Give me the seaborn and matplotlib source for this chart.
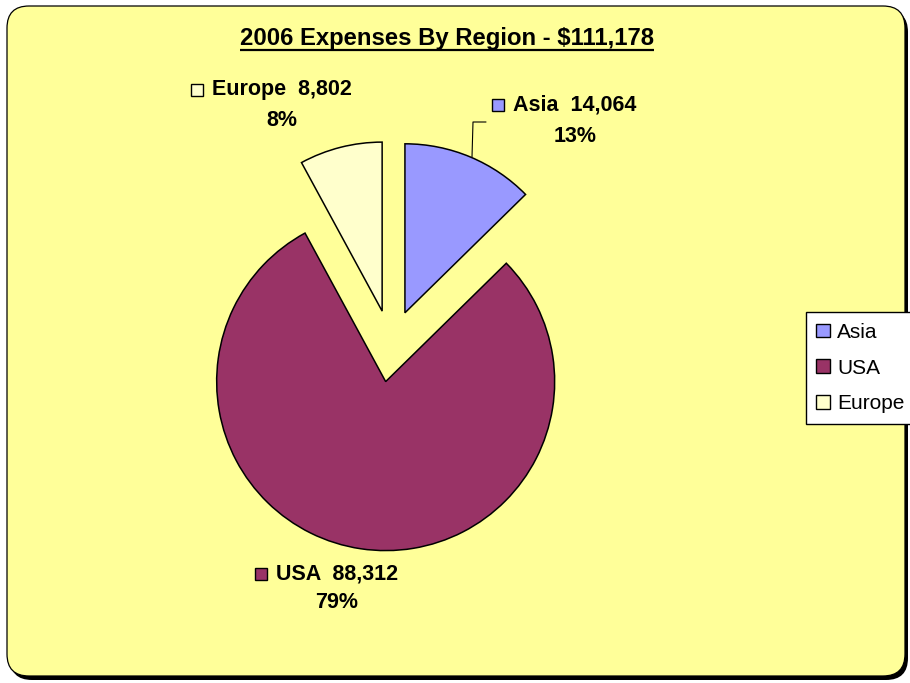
import matplotlib.pyplot as plt
import seaborn as sns
from matplotlib.patches import FancyBboxPatch, Rectangle

# chart data
regions = ["Asia", "USA", "Europe"]
expenses = [14064, 88312, 8802]
colors = ["#9999FF", "#993366", "#FFFFCC"]
title = "2006 Expenses By Region - $111,178"

total = sum(expenses)
percents = [round(v / total * 100) for v in expenses]

# layout in image pixels
W, H = 910, 683
pie_cx, pie_cy, pie_r = 391, 346, 169
explode = [0.213, 0.213, 0.213]
# (text centre x, line1 y, line2 y)
label_pos = {"Asia": (575, 105, 136), "USA": (337, 574, 602), "Europe": (282, 90, 120)}

sns.set_style("white")
plt.rcParams['font.family'] = ['Liberation Sans', 'DejaVu Sans']
plt.rcParams['text.color'] = 'black'

fig = plt.figure(figsize=(W / 100, H / 100), dpi=100)

# background axes in pixel coords
bg = fig.add_axes([0, 0, 1, 1], zorder=0)
bg.set_xlim(0, W)
bg.set_ylim(H, 0)
bg.axis("off")
bg.add_patch(FancyBboxPatch((10, 10), 898, 670, boxstyle="round,pad=0,rounding_size=22",
                            facecolor="black", edgecolor="black", lw=0))
bg.add_patch(FancyBboxPatch((7, 6), 898, 670, boxstyle="round,pad=0,rounding_size=22",
                            facecolor="#FFFF99", edgecolor="black", lw=0.9))

# pie axes
ax = fig.add_axes([0, 0, 1, 1], zorder=1)
ax.patch.set_alpha(0)
wedges, _ = ax.pie(expenses, colors=colors, startangle=90, counterclock=False,
                   explode=explode, radius=1,
                   wedgeprops=dict(edgecolor="black", linewidth=1.1))
ax.set_xlim(-pie_cx / pie_r, (W - pie_cx) / pie_r)
ax.set_ylim(-(H - pie_cy) / pie_r, pie_cy / pie_r)
ax.set_aspect("auto")
ax.axis("off")

# title
t = bg.text(447, 45, title, ha="center", va="baseline", fontsize=17.2, fontweight="bold")

# data labels
line1 = []
for name, val, p, c in zip(regions, expenses, percents, colors):
    x, y1, y2 = label_pos[name]
    t1 = bg.text(x, y1, f"{name}  {val:,}", ha="center", va="center", fontsize=15.5, fontweight="bold")
    bg.text(x, y2, f"{p}%", ha="center", va="center", fontsize=15.5, fontweight="bold")
    line1.append((t1, c, y1))

# leader line for Asia
bg.plot([486, 473, 472], [122, 122, 157], color="black", lw=0.8)

# legend
leg = fig.legend(wedges, regions, loc="center left", bbox_to_anchor=(806 / W, 1 - 368 / H),
                 borderaxespad=0, fontsize=15, fancybox=False, framealpha=1,
                 edgecolor="black", handlelength=0.65, handleheight=0.65,
                 handletextpad=0.35, labelspacing=0.8, borderpad=0.5)
leg.get_frame().set_linewidth(1.0)
for h in leg.legend_handles:
    h.set_linewidth(1.0)

# underline title and square keys beside labels
fig.canvas.draw()
inv = bg.transData.inverted()
bb = t.get_window_extent()
(x0, _), (x1, _) = inv.transform([[bb.x0, bb.y0], [bb.x1, bb.y0]])
bg.plot([x0, x1], [50, 50], color="black", lw=1.6, solid_capstyle="butt")
for t1, c, y1 in line1:
    b = t1.get_window_extent()
    lx = inv.transform([[b.x0, b.y0]])[0][0]
    bg.add_patch(Rectangle((lx - 21, y1 - 6), 12, 12, facecolor=c, edgecolor="black", lw=1.0))

fig.savefig("out.png", dpi=100)
